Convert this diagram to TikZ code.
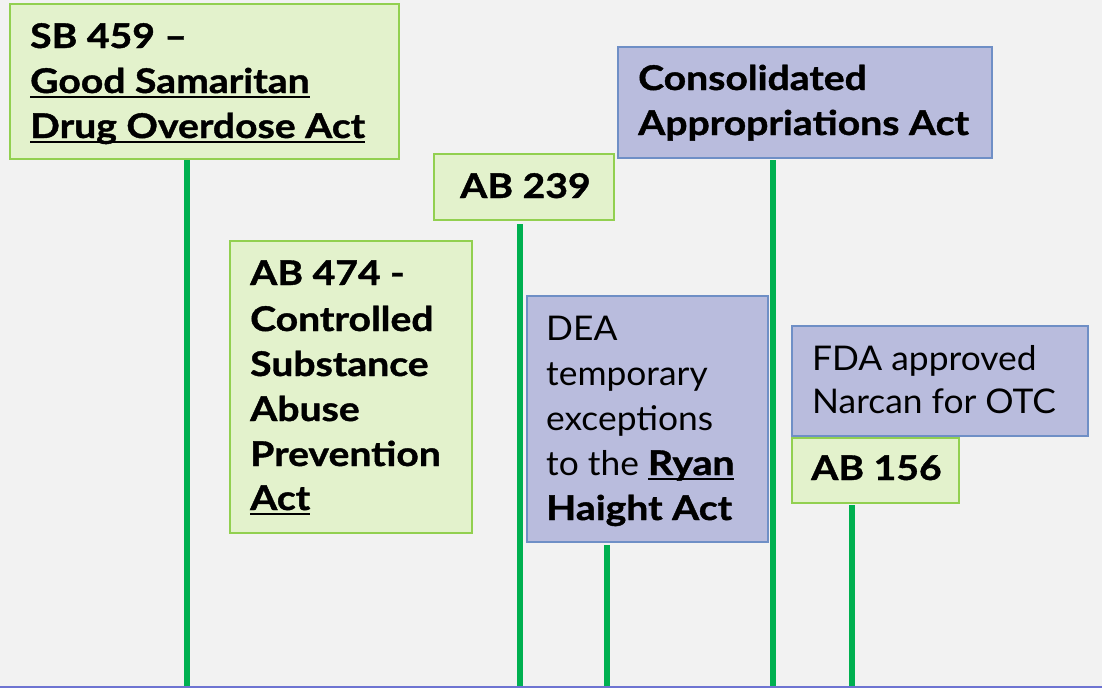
\documentclass[tikz,border=0pt]{standalone}
\usepackage{fontspec}
\setmainfont{Lato}[UprightFeatures={FakeStretch=1.04},BoldFeatures={FakeStretch=1.15,FakeBold=1.2}]
\definecolor{bgc}{HTML}{F2F2F2}
\definecolor{gfill}{HTML}{E3F2CC}
\definecolor{gline}{HTML}{92D050}
\definecolor{bfill}{HTML}{B9BCDD}
\definecolor{bline}{HTML}{6F8FC6}
\definecolor{stemc}{HTML}{00B050}
\definecolor{basec}{HTML}{6E74D2}
\newcommand\myul[1]{\setbox0\hbox{#1}\rlap{\rule[-4.8pt]{\wd0}{2.2pt}}\box0}
\tikzset{
  gbox/.style={draw=gline, fill=gfill, line width=2pt, inner sep=0pt, anchor=north west},
  bbox/.style={draw=bline, fill=bfill, line width=2pt, inner sep=0pt, anchor=north west},
  txt/.style={anchor=base west, inner sep=0pt, font=\fontsize{34}{40}\selectfont},
  btxt/.style={txt, font=\fontsize{34}{40}\selectfont\bfseries},
  stemline/.style={draw=stemc, line width=6pt},
  baseline/.style={draw=basec, line width=2.5pt}
}
\begin{document}
\begin{tikzpicture}[x=1pt,y=-1pt]
\useasboundingbox[fill=bgc] (0,0) rectangle (1102,688);
% bottom coordinates
\coordinate (b1) at (187,688);
\coordinate (b2) at (520,688);
\coordinate (b3) at (773,688);
\coordinate (b4) at (607,688);
\coordinate (b5) at (852,688);
\coordinate (bl) at (0,687);
\coordinate (br) at (1102,687);
% boxes
\node[gbox, minimum width=389pt, minimum height=155pt] (sb) at (9,3) {};
\node[gbox, minimum width=180pt, minimum height=66pt] (ab239) at (433,153) {};
\node[bbox, minimum width=374pt, minimum height=111pt] (caa) at (617,46) {};
\node[gbox, minimum width=242pt, minimum height=292pt] (ab474) at (229,240) {};
\node[bbox, minimum width=241pt, minimum height=246pt] (dea) at (526,295) {};
\node[bbox, minimum width=296pt, minimum height=110pt] (fda) at (791,325) {};
\node[gbox, minimum width=167pt, minimum height=65pt] (ab156) at (791,437) {};
% stems
\draw[stemline] (b1 |- sb.south) -- (b1);
\draw[stemline] ([yshift=-3pt]b2 |- ab239.south) -- (b2);
\draw[stemline] ([yshift=-1pt]b3 |- caa.south) -- (b3);
\draw[stemline] ([yshift=-2pt]b4 |- dea.south) -- (b4);
\draw[stemline] ([yshift=-1pt]b5 |- ab156.south) -- (b5);
\draw[baseline] (bl) -- (br);
% texts
\node[btxt] (sbt1) at (30,48) {SB 459 –};
\node[btxt] (sbt2) at (30,93) {\myul{Good Samaritan}};
\node[btxt] (sbt3) at (30,138) {\myul{Drug Overdose Act}};
\node[btxt] (abt) at (460,198) {AB 239};
\node[btxt] (cat1) at (638,90) {Consolidated};
\node[btxt] (cat2) at (638,135) {Appropriations Act};
\node[btxt] (at1) at (250,285) {AB 474 -};
\node[btxt] (at2) at (250,331) {Controlled};
\node[btxt] (at3) at (250,376) {Substance};
\node[btxt] (at4) at (250,421) {Abuse};
\node[btxt] (at5) at (250,466) {Prevention};
\node[btxt] (at6) at (250,510) {\myul{Act}};
\node[txt] (dt1) at (546,340) {DEA};
\node[txt] (dt2) at (546,385) {temporary};
\node[txt] (dt3) at (546,430) {exceptions};
\node[txt] (dt4) at (546,475) {to the \textbf{\myul{Ryan}}};
\node[btxt] (dt5) at (546,520) {Haight Act};
\node[txt] (ft1) at (812,370) {FDA approved};
\node[txt] (ft2) at (812,413) {Narcan for OTC};
\node[btxt] (a156) at (811,480) {AB 156};
\end{tikzpicture}
\end{document}
